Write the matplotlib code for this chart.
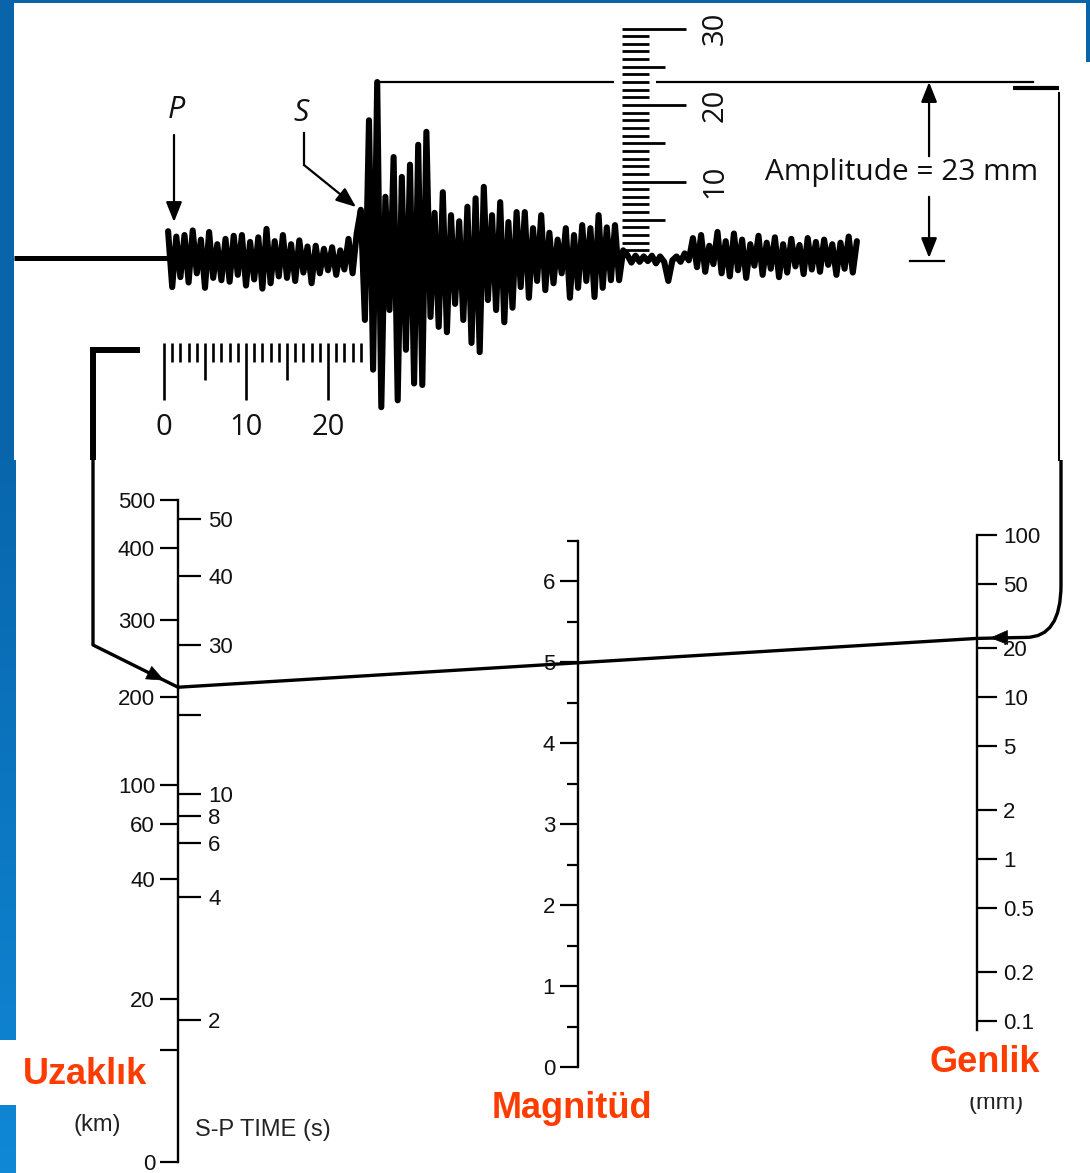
import numpy as np
import matplotlib
matplotlib.use('Agg')
import matplotlib.pyplot as plt
from matplotlib.patches import Rectangle, PathPatch
from matplotlib.path import Path
from matplotlib.colors import LinearSegmentedColormap
from matplotlib.ticker import NullLocator

plt.rcParams['font.family'] = ['Liberation Sans', 'DejaVu Sans']

# ------------------------------------------------------------------ data
# seismogram trace, mm above the baseline, one value every 0.5 s after P
trace_dt = 0.5
trace_start = 0.5
p_coda = [3.5, -3.8, 2.8, -2.5, 3.0, -3.2, 3.6, -2.0, 2.4, -3.9, 3.4, -2.6,
          1.8, -2.9, 2.5, -3.1, 2.9, -2.2, 3.0, -3.6, 2.1, -2.8, 2.7, -4.0,
          3.8, -3.3, 2.2, -2.4, 3.0, -2.6, 1.8, -3.0, 2.3, -1.9, 1.5, -3.3,
          1.6, -2.0, 1.2, -1.6, 1.4, -2.2, 1.0, -1.5, 2.5, -2.0, 3.2]
s_wave = [6.3, -8.1, 18.0, -14.6, 23.0, -19.5, 8.0, -6.8, 13.2, -18.6,
          10.6, -12.0, 12.2, -16.4, 14.8, -16.6, 16.5, -7.7, 5.9, -9.0,
          8.6, -9.7, 5.6, -6.0, 4.8, -8.1, 6.7, -11.1, 7.8, -12.3,
          9.3, -5.5, 5.6, -6.8, 7.3, -8.4, 4.7, -6.5, 6.0, -3.8,
          6.0, -5.2, 3.9, -3.0, 5.6, -4.2, 3.3, -3.3, 2.4, -2.0,
          3.9, -5.2, 3.0, -3.9, 4.3, -3.0, 3.9, -5.1, 5.6, -3.9,
          4.0, -2.9, 4.3, -2.9, 1.0]
quiet = [0.4, -0.6, 0.3, -0.5, 0.2, -0.4, 0.3, -0.7, 0.2, -0.5, -3.0, -0.3,
         0.2, -0.5, 0.6, -0.3]
tail = [2.6, -1.2, 3.0, -1.8, 1.6, -0.8, 3.4, -2.0, 2.2, -2.4, 3.2, -1.6,
        2.4, -2.6, 1.8, -1.0, 2.9, -2.2, 2.0, -1.4, 2.7, -2.5, 1.8, -1.9,
        2.5, -1.1, 1.7, -2.1, 2.6, -1.5, 2.1, -1.8, 2.4, -0.9, 1.8, -2.2,
        2.0, -1.4, 2.8, -1.9, 2.2]
trace_mm = p_coda + s_wave + quiet + tail

amplitude_mm = 23
sp_time_s = 24
time_ruler_ticks = list(range(0, 25))
time_ruler_labels = [0, 10, 20]
amp_ruler_ticks = list(range(1, 31))
amp_ruler_labels = [10, 20, 30]

# nomogram scales
dist_labels = ['500', '400', '300', '200', '100', '60', '40', '20', '', '0']
dist_corr = [4.78, 4.48, 4.04, 3.56, 3.02, 2.78, 2.44, 1.70, 1.38, 0.69]
sp_values = [50, 40, 30, 20, 10, 8, 6, 4, 2]
sp_labels = ['50', '40', '30', '', '10', '8', '6', '4', '2']
sp_corr = [4.66, 4.31, 3.88, 3.45, 2.96, 2.83, 2.66, 2.33, 1.57]
mag_major = [0, 1, 2, 3, 4, 5, 6]
mag_minor = [0.5, 1.5, 2.5, 3.5, 4.5, 5.5, 6.5]
amp_ticks = [100, 50, 20, 10, 5, 2, 1, 0.5, 0.2, 0.1]
amp_labels = ['100', '50', '20', '10', '5', '2', '1', '0.5', '0.2', '0.1']

title_dist = 'Uzaklık'
title_mag = 'Magnitüd'
title_amp = 'Genlik'

# ------------------------------------------------------------------ figure
W, H = 1090, 1173
fig = plt.figure(figsize=(W / 100, H / 100), dpi=100)
fig.patch.set_facecolor('white')

# pixel overlay
pax = fig.add_axes([0, 0, 1, 1])
pax.set_xlim(0, W)
pax.set_ylim(H, 0)
pax.axis('off')

BLUE = '#0a64aa'
RED = '#ff3c00'
INK = '#111111'

pax.add_patch(Rectangle((0, 0), 14, 460, color=BLUE, lw=0, zorder=0))
pax.add_patch(Rectangle((0, 0), W, 3, color=BLUE, lw=0, zorder=0))
pax.add_patch(Rectangle((1086, 0), 4, 62, color=BLUE, lw=0, zorder=0))
grad = np.linspace(0, 1, 200).reshape(-1, 1)
pax.imshow(grad, extent=(0, 16, H, 460), aspect='auto', zorder=0,
           cmap=LinearSegmentedColormap.from_list('bl', ['#0866ad', '#1088d6']))
pax.set_xlim(0, W)
pax.set_ylim(H, 0)
pax.add_patch(Rectangle((0, 1040), 165, 65, color='white', lw=0, zorder=1))

# ------------------------------------------------------------------ seismogram
px_per_s, px_per_mm, x0_px, base_px = 8.2, 7.65, 164, 258
sax = fig.add_axes([0, 0, 1, 1])
sax.set_xlim(-x0_px / px_per_s, (W - x0_px) / px_per_s)
sax.set_ylim((base_px - H) / px_per_mm, base_px / px_per_mm)
sax.axis('off')

t = trace_start + trace_dt * np.arange(len(trace_mm))
sax.plot([(14 - x0_px) / px_per_s, trace_start], [0, 0], color='k', lw=3.6,
         solid_capstyle='butt')
sax.plot(t, trace_mm, color='k', lw=4.4, solid_joinstyle='round',
         solid_capstyle='round')

# time ruler
for v in time_ruler_ticks:
    bottom = -18.6 if v % 10 == 0 else (-15.9 if v % 5 == 0 else -13.6)
    sax.plot([v, v], [-11.1, bottom], color='k', lw=1.9, solid_capstyle='butt')
for v in time_ruler_labels:
    sax.text(v, -22.1, str(v), ha='center', va='center', fontsize=21,
             family=['Open Sans', 'DejaVu Sans'], color=INK)

# amplitude ruler
t_peak = t[int(np.argmax(trace_mm))]
sax.plot([t_peak, (1033 - x0_px) / px_per_s], [amplitude_mm, amplitude_mm],
         color='k', lw=1.6, zorder=2)
sax.add_patch(Rectangle((54.9, amplitude_mm - 1.2), 5.1, 2.4, color='white',
                        lw=0, zorder=3))
for v in amp_ruler_ticks:
    right = 63.7 if v % 10 == 0 else (61.1 if v % 5 == 0 else 59.15)
    sax.plot([55.85, right], [v, v], color='k', lw=2.0, zorder=4,
             solid_capstyle='butt')
for v in amp_ruler_labels:
    sax.text(67.2, v, str(v), rotation=90, ha='center', va='center',
             fontsize=21, family=['Open Sans', 'DejaVu Sans'], color=INK)

# amplitude measurement arrows
ta = 93.3
aprops = dict(arrowstyle='-|>,head_length=0.55,head_width=0.22', color='k',
              lw=1.6, mutation_scale=22, shrinkA=0, shrinkB=0)
sax.annotate('', xy=(ta, amplitude_mm), xytext=(ta, 13.3), arrowprops=aprops)
sax.annotate('', xy=(ta, 0), xytext=(ta, 8.0), arrowprops=aprops)
sax.plot([91.0, 95.1], [-0.4, -0.4], color='k', lw=1.6)
sax.text(90.0, 11.2, f'Amplitude = {amplitude_mm} mm', ha='center',
         va='center', fontsize=21.5, family=['Open Sans', 'DejaVu Sans'],
         color=INK)

# P and S arrows
pax.text(176, 110, 'P', style='italic', ha='center', va='center',
         fontsize=22, family=['Open Sans', 'DejaVu Sans'], color=INK)
pax.text(301, 113, 'S', style='italic', ha='center', va='center',
         fontsize=22, family=['Open Sans', 'DejaVu Sans'], color=INK)
pax.annotate('', xy=(174, 222), xytext=(174, 135), arrowprops=aprops)
pax.plot([304, 304], [133, 165], color='k', lw=1.6)
pax.annotate('', xy=(356, 207), xytext=(304, 165), arrowprops=aprops)

# ------------------------------------------------------------------ nomogram
def nomo_axes(x_px, top_px, bot_px):
    a = fig.add_axes([x_px / W, 1 - bot_px / H, 1.0 / W, (bot_px - top_px) / H])
    a.patch.set_visible(False)
    a.set_xlim(0, 1)
    a.set_xticks([])
    for s in ('top', 'bottom', 'right'):
        a.spines[s].set_visible(False)
    a.spines['left'].set_linewidth(1.7)
    return a

TICKFS = 16

def y_dist(g):
    return 1274 - 162 * g

# distance / S-P axis
ax_d = nomo_axes(178, y_dist(max(dist_corr)), y_dist(min(dist_corr)))
ax_d.set_ylim(min(dist_corr), max(dist_corr))
ax_d.set_yticks(dist_corr, dist_labels)
ax_d.tick_params(axis='y', direction='out', length=13, width=1.6, pad=3.5,
                 labelsize=TICKFS, labelcolor=INK)
ax_s = ax_d.twinx()
ax_s.set_ylim(min(dist_corr), max(dist_corr))
for s in ax_s.spines.values():
    s.set_visible(False)
ax_s.set_yticks(sp_corr, sp_labels)
ax_s.tick_params(axis='y', direction='out', length=16, width=1.6, pad=5,
                 labelsize=TICKFS, labelcolor=INK)

# magnitude axis
ax_m = nomo_axes(578, 1067 - 81 * 6.5, 1067)
ax_m.set_ylim(0, 6.5)
ax_m.set_yticks(mag_major, [str(v) for v in mag_major])
ax_m.set_yticks(mag_minor, minor=True)
ax_m.tick_params(axis='y', which='major', direction='out', length=13,
                 width=1.6, pad=3.5, labelsize=TICKFS, labelcolor=INK)
ax_m.tick_params(axis='y', which='minor', direction='out', length=8, width=1.6)

# amplitude axis (log)
def y_amp(a):
    return 1021 - 162 * (np.log10(a) + 1)

ax_a = nomo_axes(977, y_amp(100), y_amp(0.088))
ax_a.set_yscale('log')
ax_a.set_ylim(0.088, 100)
ax_a.yaxis.tick_right()
ax_a.set_yticks(amp_ticks, amp_labels)
ax_a.yaxis.set_minor_locator(NullLocator())
ax_a.tick_params(axis='y', direction='out', length=14, width=1.6, pad=4,
                 labelsize=TICKFS, labelcolor=INK)

# connecting line (through the library transforms)
def to_px(ax, x, y):
    return pax.transData.inverted().transform(ax.transData.transform((x, y)))

g_sp = np.interp(sp_time_s, sp_values[::-1], sp_corr[::-1])
pd_ = to_px(ax_d, 0, g_sp)
pa_ = to_px(ax_a, 0, amplitude_mm)

LW = 2.4
# right connector: from the amplitude trace down to the amplitude scale
pax.plot([1059, 1059], [93, 460], color='k', lw=1.5)
pax.plot([1013, 1059], [88, 88], color='k', lw=3.0, solid_capstyle='butt')
verts = [(1061, 460), (1061, 585), (1061, pa_[1] - 1), (1026, pa_[1] - 1),
         tuple(pa_), tuple(pd_)]
codes = [Path.MOVETO, Path.LINETO, Path.CURVE3, Path.CURVE3, Path.LINETO,
         Path.LINETO]
pax.add_patch(PathPatch(Path(verts, codes), fill=False, lw=LW, color='k',
                        zorder=3, joinstyle='round'))
hprops = dict(arrowstyle='-|>,head_length=0.6,head_width=0.25', color='k',
              lw=0.5, mutation_scale=20, shrinkA=0, shrinkB=0)
pax.annotate('', xy=(990, pa_[1] - 0.5), xytext=(1010, pa_[1] - 1),
             arrowprops=hprops)

# left connector: from the S-P time ruler to the distance scale
pax.plot([93, 93, 137], [457, 350, 350], color='k', lw=4.3,
         solid_joinstyle='miter', solid_capstyle='projecting')
bend = (93, 645)
pax.plot([93, bend[0], pd_[0]], [460, bend[1], pd_[1]], color='k', lw=LW,
         solid_joinstyle='round', zorder=3)
f0, f1 = 0.6, 0.84
pax.annotate('', xy=(bend[0] + f1 * (pd_[0] - bend[0]),
                     bend[1] + f1 * (pd_[1] - bend[1])),
             xytext=(bend[0] + f0 * (pd_[0] - bend[0]),
                     bend[1] + f0 * (pd_[1] - bend[1])),
             arrowprops=hprops)

# ------------------------------------------------------------------ labels
pax.text(97, 1125, '(km)', ha='center', va='center', fontsize=17, color='#222')
pax.text(195, 1130, 'S-P TIME (s)', ha='left', va='center', fontsize=17,
         color='#222')
pax.text(996, 1103, '(mm)', ha='center', va='center', fontsize=17,
         color='#222', zorder=2)
pax.add_patch(Rectangle((925, 1040), 125, 57, color='white', lw=0, zorder=3))

pax.text(85, 1075, title_dist, ha='center', va='center', fontsize=26,
         fontweight='bold', color=RED, zorder=5)
pax.text(572, 1109, title_mag, ha='center', va='center', fontsize=26,
         fontweight='bold', color=RED, zorder=5)
pax.text(985, 1062, title_amp, ha='center', va='center', fontsize=26,
         fontweight='bold', color=RED, zorder=5)

fig.savefig('out.png', dpi=100, facecolor='white')
